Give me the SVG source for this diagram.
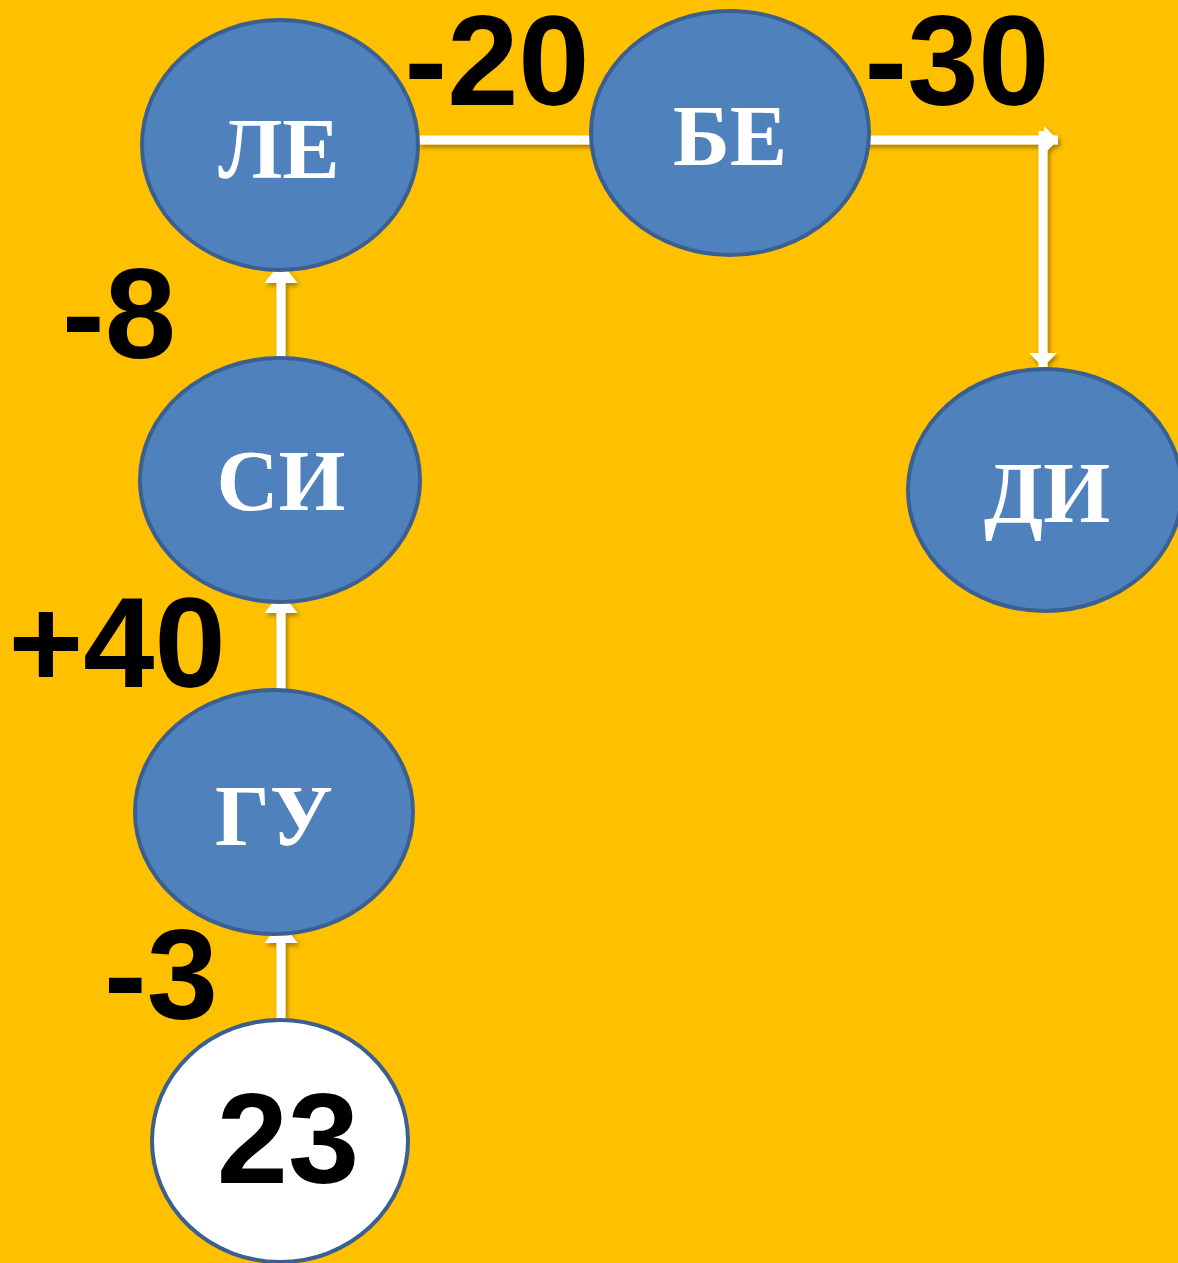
<svg xmlns="http://www.w3.org/2000/svg" width="1178" height="1263" viewBox="0 0 1178 1263">
<style>
.node{fill:#4f81bd;stroke:#3b6090;stroke-width:4}
.start{fill:#ffffff;stroke:#3b6090;stroke-width:4}
.nt{font-family:"Liberation Serif","Times New Roman",serif;font-weight:bold;font-size:86px;fill:#ffffff;text-anchor:middle}
.num{font-family:"Liberation Sans",Arial,sans-serif;font-weight:bold;font-size:128px;fill:#000000;text-anchor:middle}
.con{fill:none;stroke:#ffffff;stroke-width:9}
</style>
<defs>
<filter id="sh" x="-20%" y="-20%" width="140%" height="140%">
<feDropShadow dx="2" dy="3" stdDeviation="2" flood-color="#000" flood-opacity="0.35"/>
</filter>
<marker id="arr" viewBox="0 0 21 33" refX="21" refY="16.5" markerWidth="21" markerHeight="33" markerUnits="userSpaceOnUse" orient="auto">
<path d="M0,0 L21,16.5 L0,33 z" fill="#ffffff"/>
</marker>
<marker id="arr2" viewBox="0 0 14 28" refX="14" refY="14" markerWidth="14" markerHeight="28" markerUnits="userSpaceOnUse" orient="auto">
<path d="M0,0 L14,14 L0,28 z" fill="#ffffff"/>
</marker>
</defs>
<rect x="0" y="0" width="1178" height="1263" fill="#ffc000"/>
<g id="connectors" filter="url(#sh)">
<path class="con" d="M281,1022 L281,922" marker-end="url(#arr)"/>
<path class="con" d="M281,690 L281,592" marker-end="url(#arr)"/>
<path class="con" d="M281,358 L281,262" marker-end="url(#arr)"/>
<path class="con" d="M419,140 L1058,140" marker-end="url(#arr2)"/>
<path class="con" d="M1043,131 L1043,367" marker-end="url(#arr2)"/>
</g>
<g id="n-23"><ellipse class="start" cx="280" cy="1141" rx="128" ry="121"/><text class="num" x="288" y="1183">23</text></g>
<g id="n-gu"><ellipse class="node" cx="274" cy="812" rx="139" ry="122"/><text class="nt" x="274" y="845">ГУ</text></g>
<g id="n-si"><ellipse class="node" cx="280" cy="480" rx="140" ry="122"/><text class="nt" x="281" y="510">СИ</text></g>
<g id="n-le"><ellipse class="node" cx="280" cy="145" rx="138" ry="125"/><text class="nt" x="279" y="178">ЛЕ</text></g>
<g id="n-be"><ellipse class="node" cx="730" cy="133" rx="139" ry="122"/><text class="nt" x="730" y="165">БЕ</text></g>
<g id="n-di"><ellipse class="node" cx="1045" cy="490" rx="137" ry="121"/><text class="nt" x="1047" y="522">ДИ</text></g>
<g id="labels">
<text class="num" x="497" y="105">-20</text>
<text class="num" x="957" y="105">-30</text>
<text class="num" x="119" y="358">-8</text>
<text class="num" x="117" y="687">+40</text>
<text class="num" x="161" y="1019">-3</text>
</g>
</svg>
